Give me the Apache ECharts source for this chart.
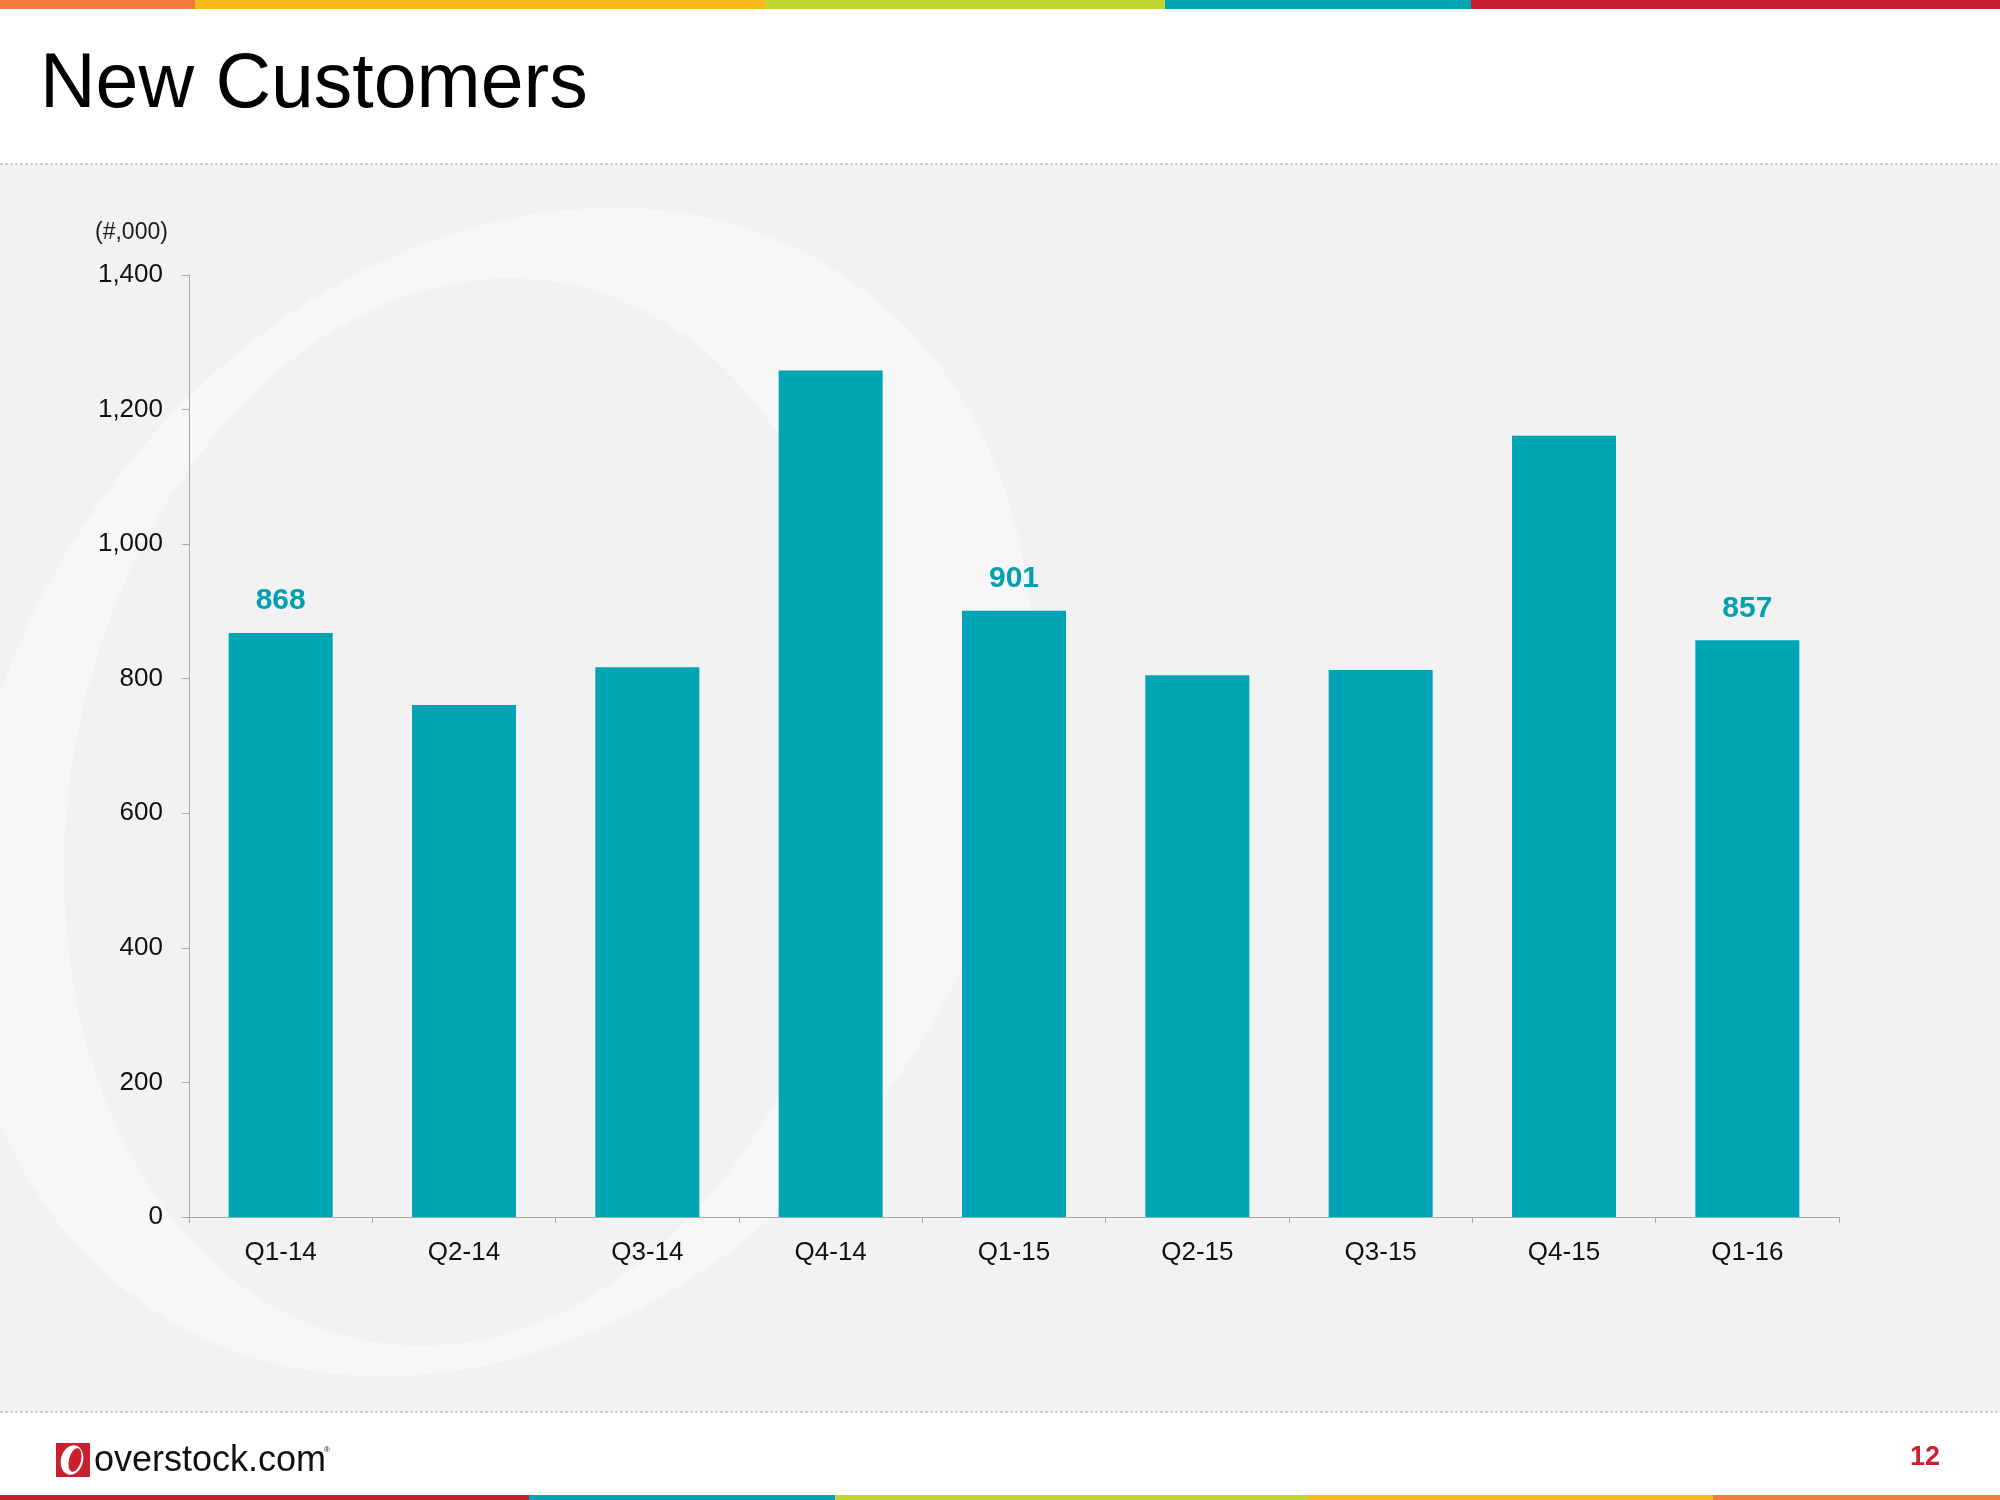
<!DOCTYPE html>
<html>
<head>
<meta charset="utf-8">
<script src="https://cdn.jsdelivr.net/npm/echarts@6/dist/echarts.min.js"></script>
<style>
  html, body { margin: 0; padding: 0; background: #ffffff; }
  #chart { width: 2000px; height: 1500px; }
</style>
</head>
<body>
<div id="chart"></div>
<script>
// ---- data ----
var categories = ['Q1-14', 'Q2-14', 'Q3-14', 'Q4-14', 'Q1-15', 'Q2-15', 'Q3-15', 'Q4-15', 'Q1-16'];
var newCustomers = [868, 761, 817, 1258, 901, 805, 813, 1161, 857];
var labeledCategories = ['Q1-14', 'Q1-15', 'Q1-16'];
var yTicks = [0, 200, 400, 600, 800, 1000, 1200, 1400];
var titleText = 'New Customers';
var unitText = '(#,000)';
var pageNumber = '12';

var TEAL = '#00A5B5';
var chart = echarts.init(document.getElementById('chart'), null, { renderer: 'canvas' });

var barData = newCustomers.map(function (v, i) {
  return { value: v, label: { show: labeledCategories.indexOf(categories[i]) >= 0 } };
});

function fmt(v) { return String(v).replace(/\B(?=(\d{3})+(?!\d))/g, ','); }

var graphics = [
  // gray content area
  { type: 'rect', z: -20, shape: { x: 0, y: 164, width: 2000, height: 1248 }, style: { fill: '#F2F2F2' } },
  // watermark "O"
  { type: 'circle', z: -19, x: 497, y: 792, scaleX: 0.791, rotation: -0.595,
    shape: { cx: 0, cy: 0, r: 622 }, style: { fill: '#F7F7F7' } },
  { type: 'circle', z: -18, x: 465, y: 812, scaleX: 0.735, rotation: -0.185,
    shape: { cx: 0, cy: 0, r: 538 }, style: { fill: '#F2F2F2' } },
  // dashed separators
  { type: 'line', z: -10, shape: { x1: 0, y1: 164, x2: 2000, y2: 164 },
    style: { stroke: '#C4C4C4', lineWidth: 1.5, lineDash: [3, 2] } },
  { type: 'line', z: -10, shape: { x1: 0, y1: 1412, x2: 2000, y2: 1412 },
    style: { stroke: '#C4C4C4', lineWidth: 1.5, lineDash: [3, 2] } },
  // top colour bar
  { type: 'rect', z: -10, shape: { x: 0, y: 0, width: 195, height: 9 }, style: { fill: '#F47A40' } },
  { type: 'rect', z: -10, shape: { x: 195, y: 0, width: 570, height: 9 }, style: { fill: '#F8BA1B' } },
  { type: 'rect', z: -10, shape: { x: 765, y: 0, width: 400, height: 9 }, style: { fill: '#C0D62F' } },
  { type: 'rect', z: -10, shape: { x: 1165, y: 0, width: 306, height: 9 }, style: { fill: '#00A5B5' } },
  { type: 'rect', z: -10, shape: { x: 1471, y: 0, width: 529, height: 9 }, style: { fill: '#C8202F' } },
  // bottom colour bar
  { type: 'rect', z: -10, shape: { x: 0, y: 1495, width: 529, height: 5 }, style: { fill: '#C8202F' } },
  { type: 'rect', z: -10, shape: { x: 529, y: 1495, width: 306, height: 5 }, style: { fill: '#00A5B5' } },
  { type: 'rect', z: -10, shape: { x: 835, y: 1495, width: 472, height: 5 }, style: { fill: '#C0D62F' } },
  { type: 'rect', z: -10, shape: { x: 1307, y: 1495, width: 406, height: 5 }, style: { fill: '#F8BA1B' } },
  { type: 'rect', z: -10, shape: { x: 1713, y: 1495, width: 287, height: 5 }, style: { fill: '#F47A40' } },
  // title
  { type: 'text', z: 10, x: 40, y: 86,
    style: { text: titleText, font: '77px "Liberation Sans", Arial, sans-serif', fill: '#000000',
             textAlign: 'left', textVerticalAlign: 'middle' } },
  // unit label
  { type: 'text', z: 10, x: 95, y: 233,
    style: { text: unitText, font: '23px "Liberation Sans", Arial, sans-serif', fill: '#1a1a1a',
             textAlign: 'left', textVerticalAlign: 'middle' } },
  // logo
  { type: 'rect', z: 10, shape: { x: 56, y: 1443, width: 34, height: 34 }, style: { fill: '#C8202F' } },
  { type: 'circle', z: 11, x: 72, y: 1460, scaleX: 11 / 15, rotation: -0.25,
    shape: { cx: 0, cy: 0, r: 15 }, style: { fill: '#FFFFFF' } },
  { type: 'circle', z: 12, x: 75, y: 1460, scaleX: 6 / 12, rotation: -0.25,
    shape: { cx: 0, cy: 0, r: 12 }, style: { fill: '#C8202F' } },
  { type: 'text', z: 10, x: 94, y: 1461,
    style: { text: 'overstock.com', font: '36px "Liberation Sans", Arial, sans-serif', fill: '#111111',
             textAlign: 'left', textVerticalAlign: 'middle' } },
  { type: 'text', z: 10, x: 324, y: 1450,
    style: { text: '®', font: '8px "Liberation Sans", Arial, sans-serif', fill: '#111111',
             textAlign: 'left', textVerticalAlign: 'middle' } },
  // page number
  { type: 'text', z: 10, x: 1925, y: 1458,
    style: { text: pageNumber, font: 'bold 27px "Liberation Sans", Arial, sans-serif',
             fill: '#C8202F', textAlign: 'center', textVerticalAlign: 'middle' } }
];

var option = {
  backgroundColor: '#FFFFFF',
  animation: false,
  graphic: graphics,
  grid: { left: 189, right: 161, top: 275, bottom: 283, containLabel: false },
  xAxis: {
    type: 'category',
    data: categories,
    axisLine: { show: true, lineStyle: { color: '#A8A8A8', width: 1 } },
    axisTick: { show: true, length: 6, alignWithLabel: false, lineStyle: { color: '#A8A8A8' } },
    axisLabel: { margin: 23, color: '#111111', fontSize: 26, lineHeight: 26,
                 fontFamily: '"Liberation Sans", Arial, sans-serif' },
    splitLine: { show: false }
  },
  yAxis: {
    type: 'value',
    min: yTicks[0],
    max: yTicks[yTicks.length - 1],
    interval: yTicks[1] - yTicks[0],
    axisLine: { show: true, lineStyle: { color: '#A8A8A8', width: 1 } },
    axisTick: { show: true, inside: false, length: 7, lineStyle: { color: '#A8A8A8' } },
    axisLabel: { margin: 26, color: '#111111', fontSize: 26,
                 fontFamily: '"Liberation Sans", Arial, sans-serif',
                 formatter: function (v) { return fmt(v); } },
    splitLine: { show: false }
  },
  series: [{
    type: 'bar',
    data: barData,
    barWidth: 104,
    itemStyle: { color: TEAL },
    label: {
      show: false,
      position: 'top',
      distance: 17,
      color: '#00A0B0',
      fontSize: 30,
      lineHeight: 30,
      fontWeight: 'bold',
      fontFamily: '"Liberation Sans", Arial, sans-serif'
    }
  }]
};
chart.setOption(option);
</script>
</body>
</html>
